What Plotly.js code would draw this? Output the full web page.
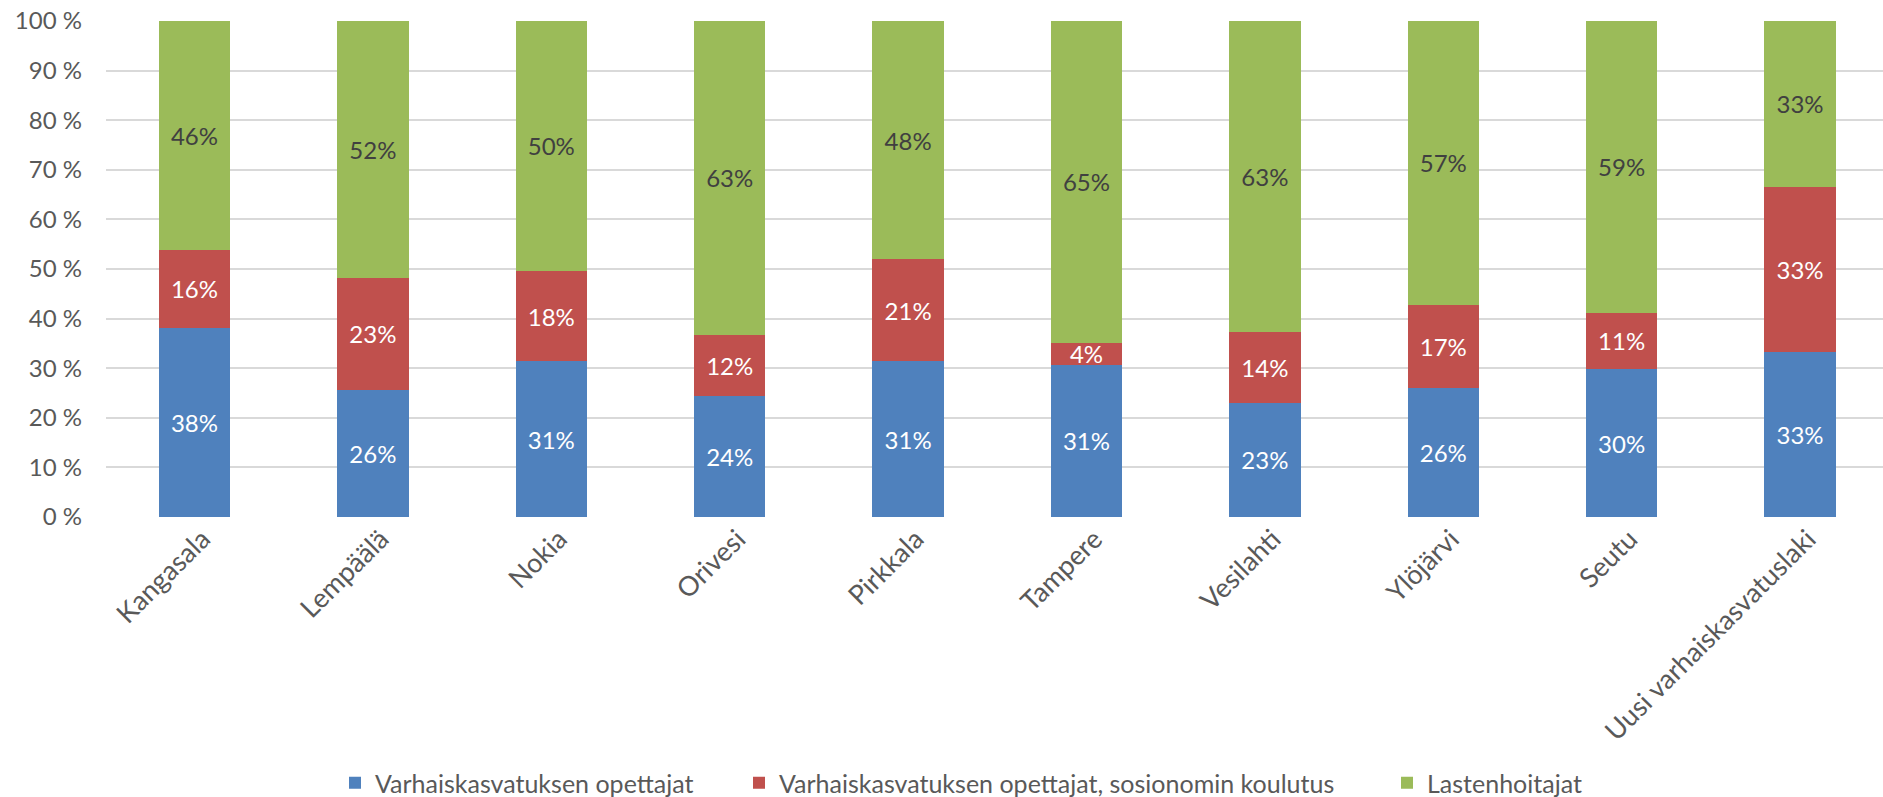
<!DOCTYPE html>
<html>
<head>
<meta charset="utf-8">
<script src="https://cdn.plot.ly/plotly-3.0.1.min.js"></script>
<style>
  html, body { margin: 0; padding: 0; background: #ffffff; }
  #chart { width: 1883px; height: 797px; }
</style>
</head>
<body>
<div id="chart"></div>
<script>
const categories = ["Kangasala", "Lempäälä", "Nokia", "Orivesi", "Pirkkala", "Tampere", "Vesilahti", "Ylöjärvi", "Seutu", "Uusi varhaiskasvatuslaki"];
const seriesNames = ["Varhaiskasvatuksen opettajat", "Varhaiskasvatuksen opettajat, sosionomin koulutus", "Lastenhoitajat"];
const opettajat = [38.2, 25.6, 31.4, 24.4, 31.4, 30.7, 23.0, 26.1, 29.8, 33.3];
const sosionomit = [15.6, 22.6, 18.2, 12.3, 20.6, 4.4, 14.2, 16.7, 11.4, 33.3];
const lastenhoitajat = [46.2, 51.8, 50.4, 63.3, 48.0, 64.9, 62.8, 57.2, 58.8, 33.4];
const yTicks = [0, 10, 20, 30, 40, 50, 60, 70, 80, 90, 100];

const FONT = "Lato, 'Open Sans', sans-serif";
const colors = ["#4F81BD", "#C0504D", "#9BBB59"];
const textColors = ["#FFFFFF", "#FFFFFF", "#404040"];
const seriesValues = [opettajat, sosionomit, lastenhoitajat];
const legendIds = ["legend", "legend2", "legend3"];

const traces = seriesValues.map((vals, i) => ({
  type: "bar",
  name: seriesNames[i],
  x: categories,
  y: vals,
  width: 0.4,
  marker: { color: colors[i], line: { width: 0 } },
  texttemplate: "%{y:.0f}%",
  textposition: "inside",
  insidetextanchor: "middle",
  constraintext: "none",
  textangle: 0,
  textfont: { family: FONT, size: 24, color: textColors[i] },
  hoverinfo: "skip",
  legend: legendIds[i]
}));

const W = 1883, H = 797;
const legendBase = {
  orientation: "h",
  xref: "container", yref: "container",
  xanchor: "left", yanchor: "middle",
  y: 1 - 783 / H,
  font: { family: FONT, size: 25, color: "#595959" },
  bgcolor: "rgba(0,0,0,0)",
  borderwidth: 0
};

const layout = {
  width: W, height: H,
  margin: { l: 106, r: 0, t: 21, b: 280, pad: 0 },
  paper_bgcolor: "#ffffff",
  plot_bgcolor: "#ffffff",
  barmode: "stack",
  showlegend: true,
  font: { family: FONT, color: "#595959" },
  xaxis: {
    type: "category",
    range: [-0.496, 9.465],
    tickangle: -45,
    tickfont: { family: FONT, size: 27, color: "#595959" },
    ticklabelshift: 8,
    showgrid: false,
    showline: false,
    zeroline: false,
    ticks: ""
  },
  yaxis: {
    range: [0, 100],
    tickvals: yTicks,
    ticktext: yTicks.map(v => v + " %"),
    tickfont: { family: FONT, size: 24, color: "#595959" },
    showgrid: true,
    gridcolor: "#D9D9D9",
    gridwidth: 2,
    zeroline: false,
    showline: false,
    ticks: "",
    ticklabelstandoff: 23
  },
  legend: Object.assign({}, legendBase, { x: 335 / W }),
  legend2: Object.assign({}, legendBase, { x: 739 / W }),
  legend3: Object.assign({}, legendBase, { x: 1387 / W })
};

Plotly.newPlot("chart", traces, layout, { displayModeBar: false, staticPlot: true });
</script>
</body>
</html>
